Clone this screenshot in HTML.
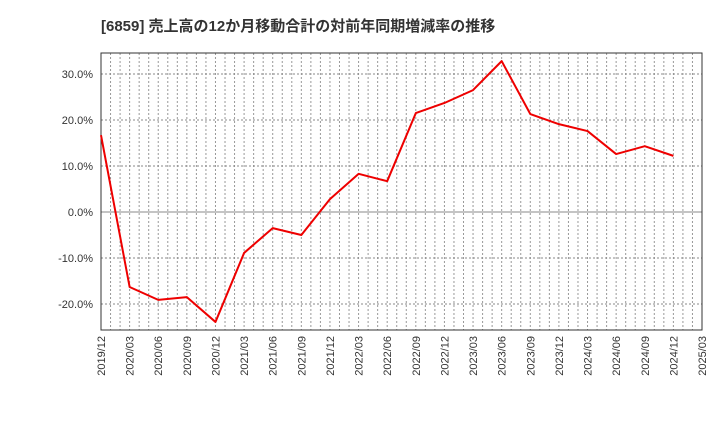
<!DOCTYPE html>
<html><head><meta charset="utf-8"><style>
body{margin:0;background:#fff;}
svg{display:block;font-family:"Liberation Sans","Noto Sans CJK JP",sans-serif;}
</style></head><body>
<svg id="chart" width="720" height="440">
<text x="101" y="31" font-size="15" font-weight="bold" fill="#333">[6859]  売上高の12か月移動合計の対前年同期増減率の推移</text>
<g id="grid"></g><g id="axes"></g><g id="series"></g>
</svg>
<script>
const categories=["2019/12","2020/03","2020/06","2020/09","2020/12","2021/03","2021/06","2021/09","2021/12","2022/03","2022/06","2022/09","2022/12","2023/03","2023/06","2023/09","2023/12","2024/03","2024/06","2024/09","2024/12","2025/03"];
const values=[16.7,-16.3,-19.1,-18.5,-23.9,-8.9,-3.5,-5.0,2.8,8.3,6.7,21.5,23.7,26.5,32.8,21.3,19.1,17.6,12.6,14.3,12.2];
const yTicks=[-20,-10,0,10,20,30];
const NS="http://www.w3.org/2000/svg";
const L=101,R=702,T=53,B=330;
const x=i=>L+i*(R-L)/(categories.length-1);
const y=v=>212-v*4.6;
function mk(t,a,p){const e=document.createElementNS(NS,t);for(const k in a)e.setAttribute(k,a[k]);p.appendChild(e);return e;}
const grid=document.getElementById('grid'),axes=document.getElementById('axes'),series=document.getElementById('series');
for(let m=1;m<(categories.length-1)*3;m++){
 const gx=x(m/3);
 const gl=mk('line',{x1:gx,x2:gx,y1:T,y2:B,stroke:'#999','stroke-dasharray':'2,2','stroke-width':1},grid);
 
 
}
categories.forEach((c,i)=>{
 const t=mk('text',{x:0,y:0,'font-size':11,fill:'#333','text-anchor':'end',transform:`translate(${x(i)+4},${B+6}) rotate(-90)`},axes);
 t.textContent=c;
 
 
});
yTicks.forEach(v=>{
 const gl=mk('line',{x1:L,x2:R,y1:y(v),y2:y(v),stroke:'#888','stroke-dasharray':v===0?'none':'2,2','stroke-width':1},grid);
 
 
 const t=mk('text',{x:L-8,y:y(v)+4,'font-size':11,fill:'#333','text-anchor':'end'},axes);
 t.textContent=v.toFixed(1)+'%';
 
 
});
const fr=mk('rect',{x:L,y:T,width:R-L,height:B-T,fill:'none',stroke:'#333','stroke-width':1},axes);


const ln=mk('polyline',{points:values.map((v,i)=>x(i)+','+y(v)).join(' '),fill:'none',stroke:'#e00','stroke-width':2,'stroke-linejoin':'round'},series);


</script>
</body></html>
